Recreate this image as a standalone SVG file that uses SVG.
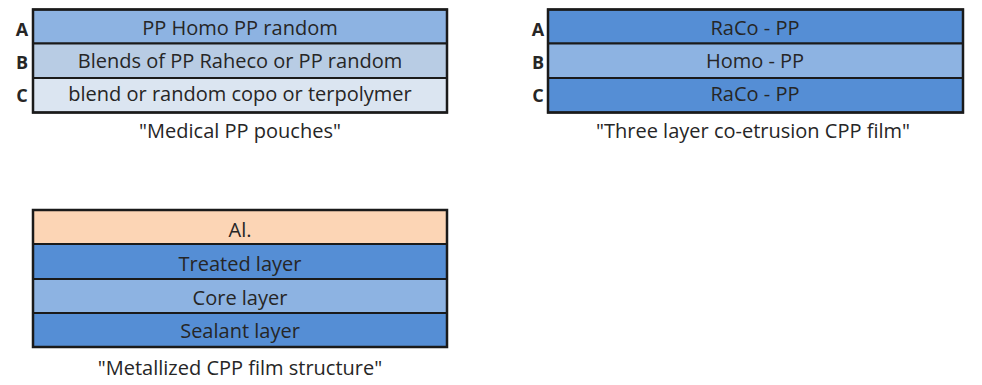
<svg xmlns="http://www.w3.org/2000/svg" width="982" height="385" viewBox="0 0 982 385">
<style>
.t{font-family:"Open Sans","Liberation Sans",sans-serif;font-size:20px;fill:#262626;text-anchor:middle}
.l{font-family:"Open Sans","Liberation Sans",sans-serif;font-size:18px;font-weight:bold;fill:#262626;text-anchor:middle}
.r{stroke:#1a1a1a;stroke-width:2}
.o{fill:none;stroke:#1a1a1a;stroke-width:2.5}
</style>
<rect width="982" height="385" fill="#ffffff"/>
<g id="medical">
<rect class="r" x="33" y="9.5" width="414" height="34" fill="#8DB3E2"/>
<rect class="r" x="33" y="43.5" width="414" height="34.5" fill="#B8CCE4"/>
<rect class="r" x="33" y="78" width="414" height="34.5" fill="#DBE5F1"/>
<rect class="o" x="33" y="9.5" width="414" height="103"/>
<text class="t" x="240" y="35">PP Homo PP random</text>
<text class="t" x="240" y="68">Blends of PP Raheco or PP random</text>
<text class="t" x="240" y="101">blend or random copo or terpolymer</text>
<text class="l" x="22" y="36">A</text>
<text class="l" x="22" y="69">B</text>
<text class="l" x="22" y="102">C</text>
<text class="t" x="240" y="138">"Medical PP pouches"</text>
</g>
<g id="cpp">
<rect class="r" x="548" y="9.5" width="415" height="34" fill="#558ED5"/>
<rect class="r" x="548" y="43.5" width="415" height="34.5" fill="#8DB3E2"/>
<rect class="r" x="548" y="78" width="415" height="34.5" fill="#558ED5"/>
<rect class="o" x="548" y="9.5" width="415" height="103"/>
<text class="t" x="755" y="35">RaCo - PP</text>
<text class="t" x="755" y="68">Homo - PP</text>
<text class="t" x="755" y="101">RaCo - PP</text>
<text class="l" x="538" y="36">A</text>
<text class="l" x="538" y="69">B</text>
<text class="l" x="538" y="102">C</text>
<text class="t" x="753" y="138">"Three layer co-etrusion CPP film"</text>
</g>
<g id="metallized">
<rect class="r" x="33" y="210" width="414" height="34" fill="#FCD5B5"/>
<rect class="r" x="33" y="244" width="414" height="35" fill="#558ED5"/>
<rect class="r" x="33" y="279" width="414" height="34" fill="#8DB3E2"/>
<rect class="r" x="33" y="313" width="414" height="34" fill="#558ED5"/>
<rect class="o" x="33" y="210" width="414" height="137"/>
<text class="t" x="240" y="237">Al.</text>
<text class="t" x="240" y="271">Treated layer</text>
<text class="t" x="240" y="305">Core layer</text>
<text class="t" x="240" y="338">Sealant layer</text>
<text class="t" x="240" y="375">"Metallized CPP film structure"</text>
</g>
<g id="connectors"></g>
</svg>
